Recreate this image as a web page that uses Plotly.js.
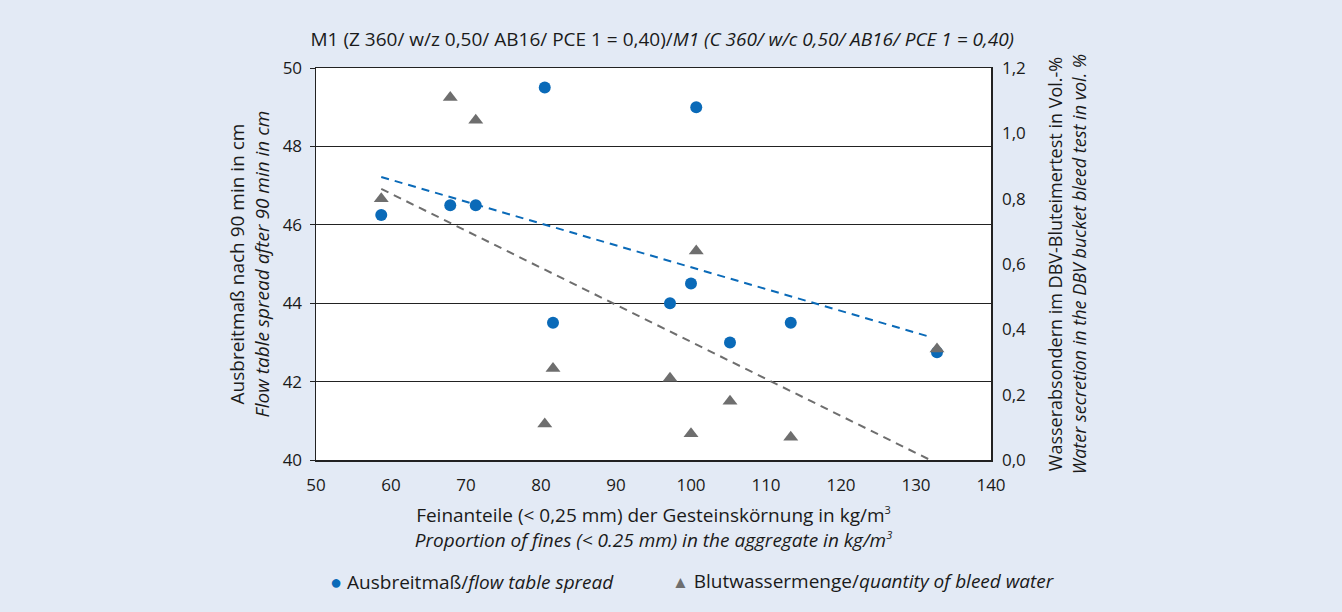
<!DOCTYPE html>
<html>
<head>
<meta charset="utf-8">
<script src="https://cdn.plot.ly/plotly-3.0.1.min.js"></script>
<style>html,body{margin:0;padding:0;background:#e3eaf5;}#chart{width:1342px;height:612px;}</style>
</head>
<body>
<div id="chart"></div>
<script>
// Data
const fines = [58.7, 67.9, 71.3, 80.5, 81.6, 97.2, 100.0, 100.7, 105.2, 113.3, 132.8];
const spread = [46.25, 46.5, 46.5, 49.5, 43.5, 44.0, 44.5, 49.0, 43.0, 43.5, 42.75];
const bleedX = [58.7, 67.9, 71.3, 80.5, 81.6, 97.2, 100.0, 100.7, 105.2, 113.3, 132.8];
const bleed = [0.80, 1.11, 1.04, 0.11, 0.28, 0.25, 0.08, 0.64, 0.18, 0.07, 0.34];
const trendSpreadX = [58.7, 131.9];
const trendSpreadY = [47.22, 43.14];
const trendBleedX = [58.7, 131.9];
const trendBleedY = [0.83, 0.0];
const leftTicks = [40, 42, 44, 46, 48, 50];
const rightTicks = [0, 0.2, 0.4, 0.6, 0.8, 1.0, 1.2];
const xTicks = [50, 60, 70, 80, 90, 100, 110, 120, 130, 140];
const legendNames = ['Ausbreitmaß/<i>flow table spread</i>', 'Blutwassermenge/<i>quantity of bleed water</i>'];

const blue = '#0a6ab8';
const gray = '#6e6e6e';
const font = 'Open Sans, Noto Sans, sans-serif';
const txt = '#1a1a1a';
const sup3 = '<sup><span style="font-size:11px">3</span></sup>';

const traces = [
  {x: trendSpreadX, y: trendSpreadY, mode: 'lines', type: 'scatter', showlegend: false, hoverinfo: 'skip',
   line: {color: blue, width: 2, dash: '8px,6px'}},
  {x: trendBleedX, y: trendBleedY, mode: 'lines', type: 'scatter', yaxis: 'y2', showlegend: false, hoverinfo: 'skip',
   line: {color: gray, width: 2, dash: '8px,6px'}},
  {x: fines, y: spread, mode: 'markers', type: 'scatter', name: legendNames[0], showlegend: false,
   marker: {color: blue, size: 12, symbol: 'circle'}},
  {x: bleedX, y: bleed, mode: 'markers', type: 'scatter', yaxis: 'y2', name: legendNames[1], showlegend: false,
   marker: {color: gray, size: 13, symbol: 'triangle-up'}}
];

const layout = {
  width: 1342, height: 612,
  paper_bgcolor: '#e3eaf5', plot_bgcolor: '#ffffff',
  separators: ',.',
  font: {family: font, size: 19, color: txt},
  margin: {l: 316, r: 351, t: 68, b: 152, pad: 0},
  title: {text: 'M1 (Z 360/ w/z 0,50/ AB16/ PCE 1 = 0,40)/<i>M1 (C 360/ w/c 0,50/ AB16/ PCE 1 = 0,40)</i>',
          x: 0.513, xref: 'paper', xanchor: 'center', y: 0.935, yref: 'container', yanchor: 'middle',
          font: {size: 19, family: font, color: txt}},
  xaxis: {range: [50, 140], tickvals: xTicks, ticks: '', showgrid: false, zeroline: false,
          showline: true, linecolor: '#222', linewidth: 1.5, mirror: true,
          tickfont: {size: 17}, ticklabelstandoff: 9,
          title: {text: 'Feinanteile (< 0,25 mm) der Gesteinskörnung in kg/m' + sup3 + '<br><i>Proportion of fines (< 0.25 mm) in the aggregate in kg/m' + sup3 + '</i>',
                  font: {size: 19}, standoff: 14}},
  yaxis: {range: [40, 50], tickvals: leftTicks, ticks: 'outside', ticklen: 5, tickcolor: '#222',
          showgrid: true, gridcolor: '#222', gridwidth: 1, zeroline: false,
          showline: true, linecolor: '#222', linewidth: 1.5, mirror: true,
          tickfont: {size: 17}, ticklabelstandoff: 4,
          title: {text: 'Ausbreitmaß nach 90 min in cm<br><i>Flow table spread after 90 min in cm</i>', font: {size: 19}, standoff: 8}},
  yaxis2: {range: [0, 1.2], tickvals: rightTicks, tickformat: '.1f', overlaying: 'y', side: 'right',
           showgrid: false, zeroline: false, ticks: '', tickfont: {size: 17}, ticklabelstandoff: 10,
           title: {text: 'Wasserabsondern im DBV-Bluteimertest in Vol.-%<br><i>Water secretion in the DBV bucket bleed test in vol. %</i>', font: {size: 18}, standoff: 24}},
  showlegend: false,
  annotations: [
    {text: '<span style="color:' + blue + ';font-size:20px">●</span> ' + legendNames[0], xref: 'paper', yref: 'paper',
     x: (328 - 316) / 675, y: (460 - 581) / 392, xanchor: 'left', yanchor: 'middle', showarrow: false, font: {size: 19}},
    {text: '<span style="color:' + gray + ';font-size:17px">▲</span> ' + legendNames[1], xref: 'paper', yref: 'paper',
     x: (670 - 316) / 675, y: (460 - 581) / 392, xanchor: 'left', yanchor: 'middle', showarrow: false, font: {size: 19}}
  ]
};

Plotly.newPlot('chart', traces, layout, {displayModeBar: false, staticPlot: true});
</script>
</body>
</html>
